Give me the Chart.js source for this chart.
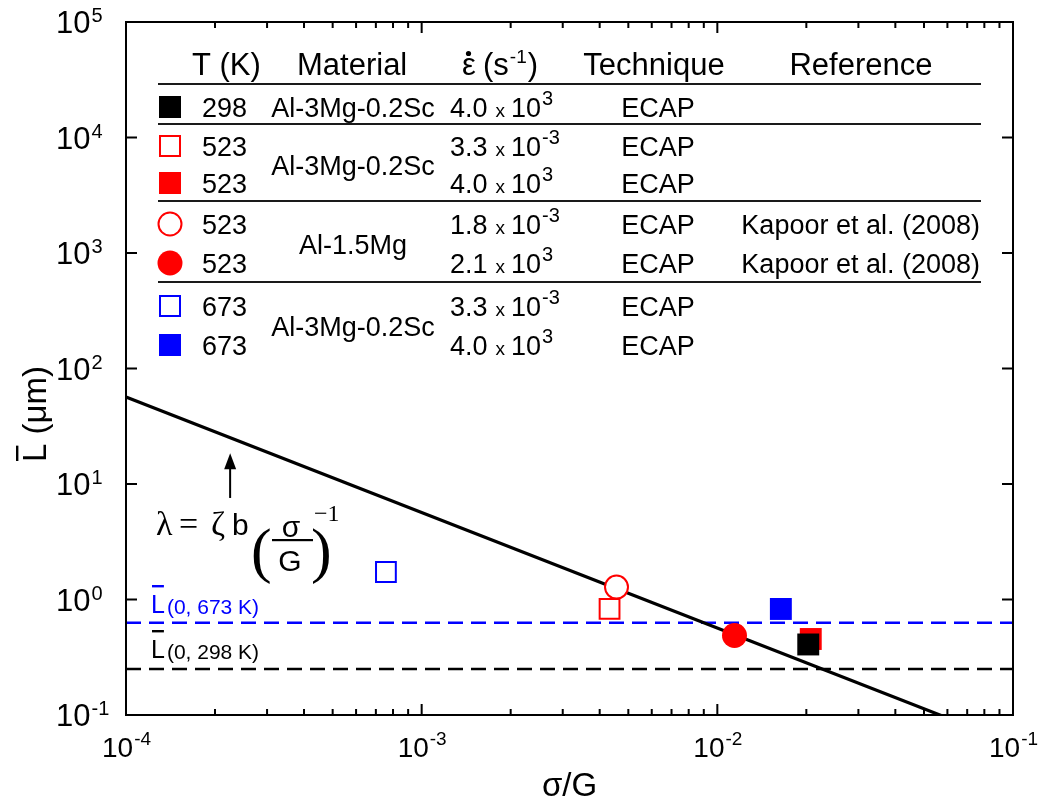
<!DOCTYPE html>
<html>
<head>
<meta charset="utf-8">
<script src="https://cdn.jsdelivr.net/npm/chart.js@4.4.0/dist/chart.umd.min.js"></script>
<style>
  html, body { margin: 0; padding: 0; background: #ffffff; }
  canvas { display: block; }
</style>
</head>
<body>
<canvas id="chart" width="1043" height="800"></canvas>
<script>
// Axis decades (labels are drawn as 10^n)
const xDecades = [-4, -3, -2, -1];
const yDecades = [-1, 0, 1, 2, 3, 4, 5];
const minorMultipliers = [2, 3, 4, 5, 6, 7, 8, 9];

// Measured grain sizes: one entry per table row
const tempK = ['298', '523', '523', '523', '523', '673', '673'];
const sigmaOverG = [0.0203, 0.00432, 0.0207, 0.00456, 0.01143, 0.000757, 0.0164];
const lBar = [0.408, 0.828, 0.455, 1.28, 0.488, 1.73, 0.828];
const rateMantissa = ['4.0', '3.3', '4.0', '1.8', '2.1', '3.3', '4.0'];
const rateExponent = ['3', '-3', '3', '-3', '3', '-3', '3'];
const technique = ['ECAP', 'ECAP', 'ECAP', 'ECAP', 'ECAP', 'ECAP', 'ECAP'];
const reference = ['', '', '', 'Kapoor et al. (2008)', 'Kapoor et al. (2008)', '', ''];

// Material groups: label and the table rows they span
const materialNames = ['Al-3Mg-0.2Sc', 'Al-3Mg-0.2Sc', 'Al-1.5Mg', 'Al-3Mg-0.2Sc'];
const materialRows = [[0, 0], [1, 2], [3, 4], [5, 6]];

// λ = ζ b (σ/G)^-1 relation, end points
const lambdaX = [1e-4, 1e-1];
const lambdaY = [56.6, 0.0566];

// Saturated grain sizes
const lSat673 = 0.63;
const lSat298 = 0.25;

// Marker appearance per row
const RED = '#ff0000', BLUE = '#0000ff', BLACK = '#000000';
const markerColor = [BLACK, RED, RED, RED, RED, BLUE, BLUE];
const markerShape = ['rect', 'rect', 'rect', 'circle', 'circle', 'rect', 'rect'];
const markerFilled = [true, false, true, false, true, false, true];
const markerOrder = [1, 3, 2, 3, 3, 3, 3];

const SANS = '"Liberation Sans", Arial, sans-serif';
const SERIF = '"Liberation Serif", "Times New Roman", serif';

function markerRadius(i) {
  if (markerShape[i] === 'rect') return markerFilled[i] ? 15.5 : 14;
  return markerFilled[i] ? 12.5 : 11.5;
}

const datasets = [];
datasets.push({
  data: lambdaX.map((x, i) => ({ x, y: lambdaY[i] })),
  showLine: true, borderColor: BLACK, borderWidth: 3.2, pointRadius: 0, order: 20
});
datasets.push({
  data: [{ x: 1e-4, y: lSat673 }, { x: 1e-1, y: lSat673 }],
  showLine: true, borderColor: BLUE, borderWidth: 2.4, borderDash: [15, 8], pointRadius: 0, order: 21
});
datasets.push({
  data: [{ x: 1e-4, y: lSat298 }, { x: 1e-1, y: lSat298 }],
  showLine: true, borderColor: BLACK, borderWidth: 2.4, borderDash: [15, 8], pointRadius: 0, order: 21
});
tempK.forEach((t, i) => {
  datasets.push({
    data: [{ x: sigmaOverG[i], y: lBar[i] }],
    showLine: false,
    pointStyle: markerShape[i],
    pointRadius: markerRadius(i),
    pointHoverRadius: markerRadius(i),
    backgroundColor: markerFilled[i] ? markerColor[i] : '#ffffff',
    borderColor: markerColor[i],
    borderWidth: markerFilled[i] ? 0 : 2,
    order: markerOrder[i]
  });
});

function sup(ctx, base, exp, x, y, baseFont, expFont, rise, align) {
  ctx.font = baseFont;
  const wb = ctx.measureText(base).width;
  ctx.font = expFont;
  const we = ctx.measureText(exp).width;
  let start = x;
  if (align === 'center') start = x - (wb + we) / 2;
  ctx.font = baseFont;
  ctx.fillText(base, start, y);
  ctx.font = expFont;
  ctx.fillText(exp, start + wb + 1, y - rise);
}

// Frame, inward ticks and tick labels
const axesPlugin = {
  id: 'axesFrame',
  afterDatasetsDraw(chart) {
    const { ctx, chartArea: a, scales: { x, y } } = chart;
    ctx.save();
    ctx.strokeStyle = BLACK;
    ctx.fillStyle = BLACK;
    ctx.lineWidth = 2;
    ctx.lineCap = 'butt';
    ctx.strokeRect(a.left, a.top, a.right - a.left, a.bottom - a.top);

    ctx.beginPath();
    xDecades.forEach((d, k) => {
      const px = x.getPixelForValue(Math.pow(10, d));
      ctx.moveTo(px, a.bottom); ctx.lineTo(px, a.bottom - 11);
      ctx.moveTo(px, a.top); ctx.lineTo(px, a.top + 11);
      if (k < xDecades.length - 1) {
        minorMultipliers.forEach(m => {
          const pm = x.getPixelForValue(m * Math.pow(10, d));
          ctx.moveTo(pm, a.bottom); ctx.lineTo(pm, a.bottom - 6);
          ctx.moveTo(pm, a.top); ctx.lineTo(pm, a.top + 6);
        });
      }
    });
    yDecades.forEach(d => {
      const py = y.getPixelForValue(Math.pow(10, d));
      ctx.moveTo(a.left, py); ctx.lineTo(a.left + 11, py);
      ctx.moveTo(a.right, py); ctx.lineTo(a.right - 11, py);
    });
    ctx.stroke();

    ctx.textBaseline = 'alphabetic';
    ctx.textAlign = 'left';
    xDecades.forEach(d => {
      const px = x.getPixelForValue(Math.pow(10, d));
      sup(ctx, '10', String(d), px, 757, '28px ' + SANS, '19px ' + SANS, 12, 'center');
    });
    yDecades.forEach(d => {
      const py = y.getPixelForValue(Math.pow(10, d));
      sup(ctx, '10', String(d), 56, py + 11, '31px ' + SANS, '20px ' + SANS, 11, 'left');
    });

    // Axis titles
    ctx.font = '33px ' + SANS;
    ctx.textAlign = 'center';
    ctx.fillText('\u03C3/G', (a.left + a.right) / 2, 796);

    ctx.save();
    ctx.translate(46, 414);
    ctx.rotate(-Math.PI / 2);
    ctx.textAlign = 'left';
    ctx.font = '33px ' + SANS;
    const tTitle = 'L (\u03BCm)';
    const wT = ctx.measureText(tTitle).width;
    const wL = ctx.measureText('L').width;
    ctx.fillText(tTitle, -wT / 2, 0);
    ctx.fillRect(-wT / 2 + 1, -30, wL - 3, 2.4);
    ctx.restore();
    ctx.restore();
  }
};

// Annotations: relation label, arrow and saturation labels
const notePlugin = {
  id: 'notes',
  afterDatasetsDraw(chart) {
    const { ctx, scales: { x, y } } = chart;
    ctx.save();
    ctx.fillStyle = BLACK;
    ctx.strokeStyle = BLACK;
    ctx.textBaseline = 'alphabetic';
    ctx.textAlign = 'left';

    // arrow pointing at the line
    const ax = x.getPixelForValue(2.25e-4);
    const tipY = y.getPixelForValue(18.5);
    const tailY = y.getPixelForValue(7.57);
    ctx.lineWidth = 2;
    ctx.beginPath();
    ctx.moveTo(ax, tailY); ctx.lineTo(ax, tipY + 12);
    ctx.stroke();
    ctx.beginPath();
    ctx.moveTo(ax, tipY); ctx.lineTo(ax - 6, tipY + 16); ctx.lineTo(ax + 6, tipY + 16);
    ctx.closePath(); ctx.fill();

    // λ = ζ b (σ/G)^-1
    ctx.font = '34px ' + SERIF;
    ctx.fillText('\u03BB', 156, 535);
    ctx.fillText('=', 179, 535);
    ctx.fillText('\u03B6', 211, 535);
    ctx.font = '30px ' + SANS;
    ctx.fillText('b', 232, 535);
    ctx.font = '62px ' + SERIF;
    ctx.fillText('(', 251, 571);
    ctx.fillText(')', 311, 571);
    ctx.font = '30px ' + SANS;
    ctx.textAlign = 'center';
    ctx.fillText('\u03C3', 291, 537);
    ctx.fillText('G', 290, 571);
    ctx.fillRect(272, 539, 41, 2.2);
    ctx.textAlign = 'left';
    ctx.font = '24px ' + SERIF;
    ctx.fillText('\u22121', 314, 521);

    // L̄(0, 673 K) and L̄(0, 298 K)
    const satLabel = (color, base, sub) => {
      ctx.fillStyle = color;
      ctx.font = '25px ' + SANS;
      ctx.fillText('L', 151, base);
      const wL = ctx.measureText('L').width;
      ctx.fillRect(152, base - 28, wL - 2, 2.4);
      ctx.font = '21px ' + SANS;
      ctx.fillText(sub, 151 + wL + 2, base + 1);
    };
    satLabel(BLUE, 613, '(0, 673 K)');
    satLabel(BLACK, 658, '(0, 298 K)');
    ctx.restore();
  }
};

// Legend table with the test conditions
const tablePlugin = {
  id: 'conditionsTable',
  afterDatasetsDraw(chart) {
    const { ctx } = chart;
    ctx.save();
    ctx.fillStyle = BLACK;
    ctx.textBaseline = 'alphabetic';

    // header
    ctx.font = '31px ' + SANS;
    ctx.textAlign = 'left';
    ctx.fillText('T (K)', 192, 75);
    ctx.fillText('Material', 297, 75);
    ctx.textAlign = 'center';
    ctx.fillText('Technique', 654, 75);
    ctx.fillText('Reference', 861, 75);
    ctx.textAlign = 'left';
    // ε̇ (s^-1)
    ctx.fillText('\u03B5', 462, 75);
    ctx.beginPath(); ctx.arc(468.5, 53.5, 2.6, 0, Math.PI * 2); ctx.fill();
    ctx.fillText('(s', 483, 75);
    const wS = ctx.measureText('(s').width;
    ctx.font = '19px ' + SANS;
    ctx.fillText('-1', 483 + wS + 1, 63);
    const w1 = ctx.measureText('-1').width;
    ctx.font = '31px ' + SANS;
    ctx.fillText(')', 483 + wS + w1 + 2, 75);

    // rule lines
    ctx.strokeStyle = '#1a1a1a';
    ctx.lineWidth = 2;
    ctx.beginPath();
    [84, 124, 201, 282].forEach(ly => { ctx.moveTo(158, ly); ctx.lineTo(981, ly); });
    ctx.stroke();

    const rowBase = [117, 156, 193, 234, 273, 316, 355];
    tempK.forEach((t, i) => {
      const b = rowBase[i];
      const cy = b - 10;
      // symbol
      ctx.fillStyle = markerColor[i];
      ctx.strokeStyle = markerColor[i];
      ctx.lineWidth = 2;
      if (markerShape[i] === 'rect') {
        if (markerFilled[i]) ctx.fillRect(159, cy - 11, 22, 22);
        else ctx.strokeRect(160, cy - 10, 20, 20);
      } else {
        ctx.beginPath();
        if (markerFilled[i]) { ctx.arc(170, cy, 12.5, 0, Math.PI * 2); ctx.fill(); }
        else { ctx.arc(170, cy, 11.5, 0, Math.PI * 2); ctx.stroke(); }
      }
      ctx.fillStyle = BLACK;
      ctx.textAlign = 'left';
      ctx.font = '27px ' + SANS;
      ctx.fillText(t, 202, b);

      // strain rate
      let xx = 450;
      ctx.font = '27px ' + SANS;
      ctx.fillText(rateMantissa[i], xx, b);
      xx += ctx.measureText(rateMantissa[i]).width + 8;
      ctx.font = '19px ' + SANS;
      ctx.fillText('x', xx, b);
      xx += ctx.measureText('x').width + 6;
      ctx.font = '27px ' + SANS;
      ctx.fillText('10', xx, b);
      xx += ctx.measureText('10').width + 1;
      ctx.font = '20px ' + SANS;
      ctx.fillText(rateExponent[i], xx, b - 12);

      ctx.font = '27px ' + SANS;
      ctx.textAlign = 'center';
      ctx.fillText(technique[i], 658, b);
      ctx.textAlign = 'right';
      if (reference[i]) ctx.fillText(reference[i], 980, b);
    });

    // material column, centred on each group
    ctx.textAlign = 'center';
    ctx.font = '27px ' + SANS;
    ctx.fillStyle = BLACK;
    materialNames.forEach((m, g) => {
      const [r0, r1] = materialRows[g];
      const b = (rowBase[r0] + rowBase[r1]) / 2;
      ctx.fillText(m, 353, b);
    });
    ctx.restore();
  }
};

new Chart(document.getElementById('chart').getContext('2d'), {
  type: 'scatter',
  data: { datasets },
  options: {
    responsive: false,
    animation: false,
    events: [],
    layout: { padding: { left: 126, top: 22, right: 30, bottom: 85 } },
    plugins: { legend: { display: false }, tooltip: { enabled: false } },
    scales: {
      x: { type: 'logarithmic', min: 1e-4, max: 1e-1, display: false },
      y: { type: 'logarithmic', min: 1e-1, max: 1e5, display: false }
    }
  },
  plugins: [axesPlugin, notePlugin, tablePlugin]
});
</script>
</body>
</html>
